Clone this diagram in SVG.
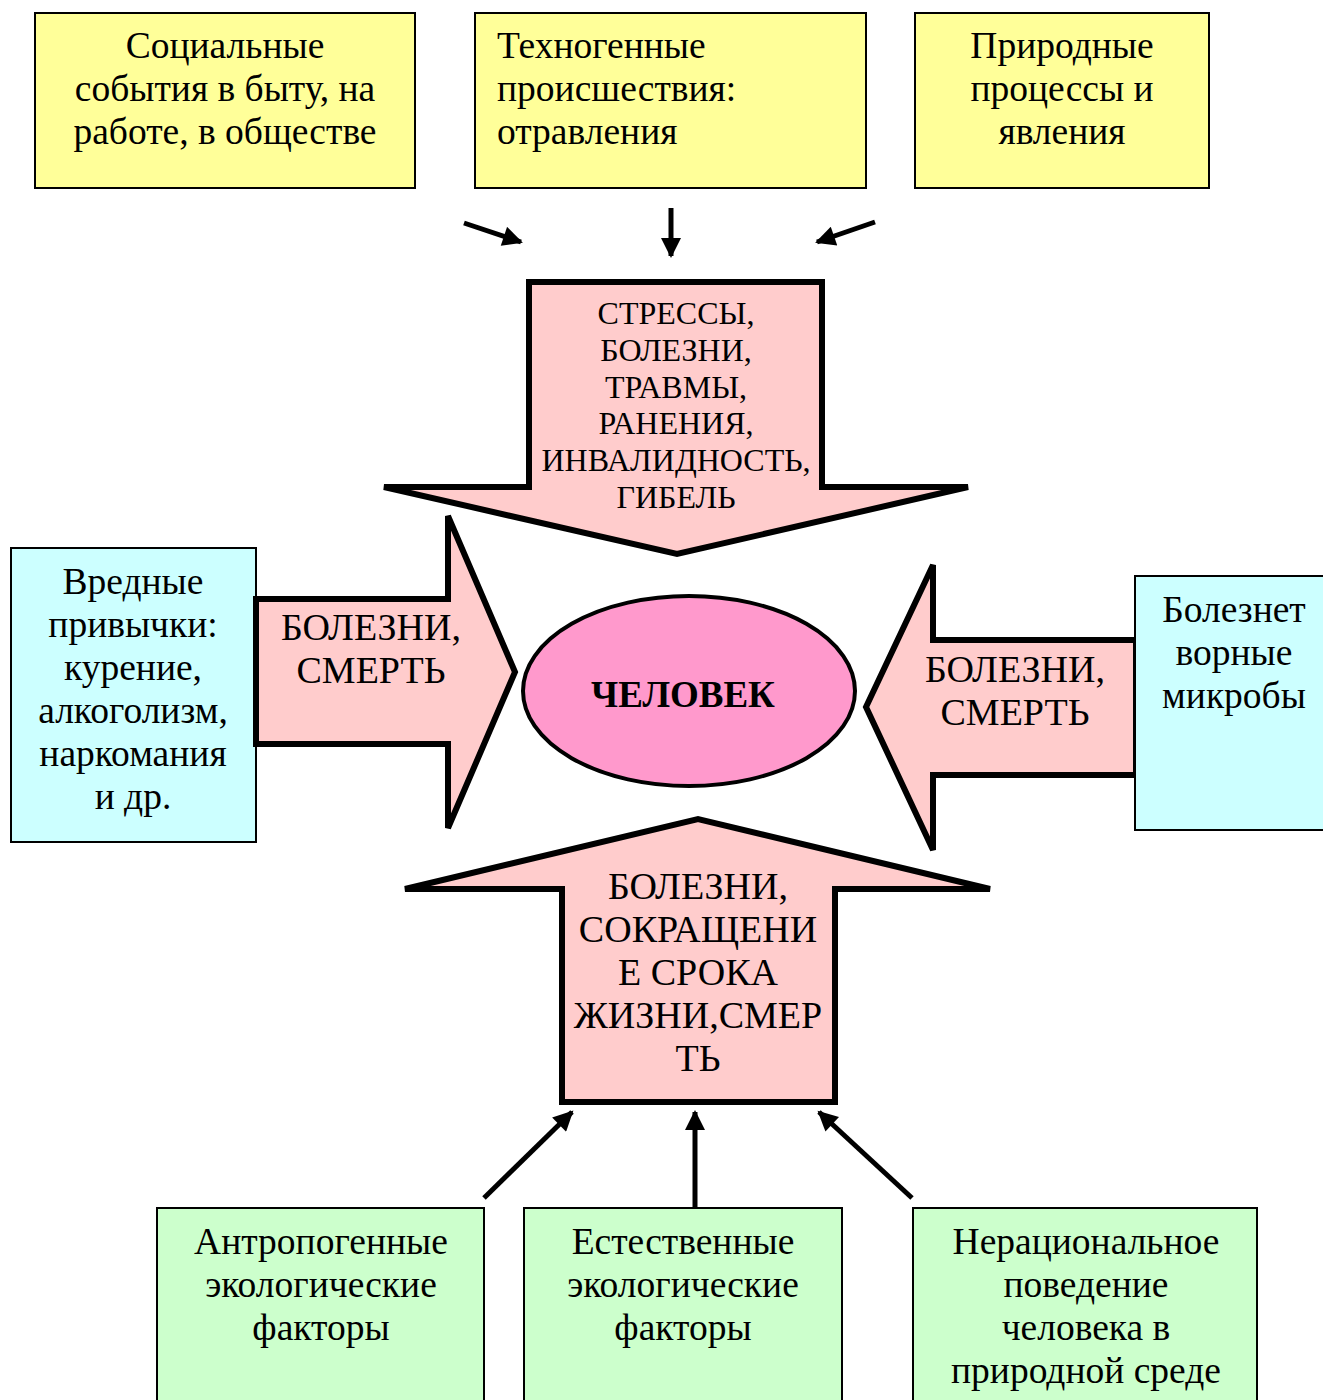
<svg xmlns="http://www.w3.org/2000/svg" width="1323" height="1400" viewBox="0 0 1323 1400">
<defs>
<marker id="ah" viewBox="0 0 10 10" refX="9" refY="5" markerWidth="4.4" markerHeight="4" markerUnits="strokeWidth" orient="auto">
<path d="M0,0 L10,5 L0,10 z" fill="#000"/>
</marker>
<style>
.t{font-family:"Liberation Serif","Times New Roman",serif;font-size:37.5px;fill:#000}
.c{text-anchor:middle}
.box{stroke:#000;stroke-width:2}
.big{fill:#ffcccc;stroke:#000;stroke-width:6;stroke-linejoin:miter}
.a{font-family:"Liberation Serif","Times New Roman",serif;fill:#000;text-anchor:middle}
.con{stroke:#000;stroke-width:5;fill:none;marker-end:url(#ah)}
</style>
</defs>
<rect width="1323" height="1400" fill="#fff"/>

<g id="box-social">
<rect class="box" x="35" y="13" width="380" height="175" fill="#ffff99"/>
<text class="t c" x="225" y="58">Социальные</text>
<text class="t c" x="225" y="101">события в быту, на</text>
<text class="t c" x="225" y="144">работе, в обществе</text>
</g>
<g id="box-techno">
<rect class="box" x="475" y="13" width="391" height="175" fill="#ffff99"/>
<text class="t" x="497" y="58">Техногенные</text>
<text class="t" x="497" y="101">происшествия:</text>
<text class="t" x="497" y="144">отравления</text>
</g>
<g id="box-nature">
<rect class="box" x="915" y="13" width="294" height="175" fill="#ffff99"/>
<text class="t c" x="1062" y="58">Природные</text>
<text class="t c" x="1062" y="101">процессы и</text>
<text class="t c" x="1062" y="144">явления</text>
</g>

<g id="arrow-top">
<polygon class="big" points="529,282 822,282 822,487 968,487 677,554 384,487 529,487"/>
<text class="a" font-size="32" x="676" y="324">СТРЕССЫ,</text>
<text class="a" font-size="32" x="676" y="361">БОЛЕЗНИ,</text>
<text class="a" font-size="32" x="676" y="398">ТРАВМЫ,</text>
<text class="a" font-size="32" x="676" y="434">РАНЕНИЯ,</text>
<text class="a" font-size="32" x="676" y="471">ИНВАЛИДНОСТЬ,</text>
<text class="a" font-size="32" x="676" y="508">ГИБЕЛЬ</text>
</g>

<g id="box-habits">
<rect class="box" x="11" y="548" width="245" height="294" fill="#ccffff"/>
<text class="t c" x="133" y="594">Вредные</text>
<text class="t c" x="133" y="637">привычки:</text>
<text class="t c" x="133" y="680">курение,</text>
<text class="t c" x="133" y="723">алкоголизм,</text>
<text class="t c" x="133" y="766">наркомания</text>
<text class="t c" x="133" y="809">и др.</text>
</g>

<g id="arrow-left">
<polygon class="big" points="256,599 448,599 448,516 515,672 448,828 448,744 256,744"/>
<text class="a" font-size="38" x="371" y="640">БОЛЕЗНИ,</text>
<text class="a" font-size="38" x="371" y="683">СМЕРТЬ</text>
</g>

<g id="arrow-right">
<polygon class="big" points="1136,640 933,640 933,565 866,707 933,850 933,775 1136,775"/>
<text class="a" font-size="38" x="1015" y="682">БОЛЕЗНИ,</text>
<text class="a" font-size="38" x="1015" y="725">СМЕРТЬ</text>
</g>

<g id="box-microbes">
<rect class="box" x="1135" y="576" width="190" height="254" fill="#ccffff"/>
<text class="t c" x="1234" y="622">Болезнет</text>
<text class="t c" x="1234" y="665">ворные</text>
<text class="t c" x="1234" y="708">микробы</text>
</g>

<g id="node-human">
<ellipse cx="689" cy="691" rx="166" ry="95" fill="#ff99cc" stroke="#000" stroke-width="4"/>
<text class="a" font-size="37" font-weight="bold" x="683" y="707">ЧЕЛОВЕК</text>
</g>

<g id="arrow-bottom">
<polygon class="big" points="562,1102 835,1102 835,889 990,889 698,819 405,889 562,889"/>
<text class="a" font-size="38" x="698" y="899">БОЛЕЗНИ,</text>
<text class="a" font-size="38" x="698" y="942">СОКРАЩЕНИ</text>
<text class="a" font-size="38" x="698" y="985">Е СРОКА</text>
<text class="a" font-size="38" x="698" y="1028">ЖИЗНИ,СМЕР</text>
<text class="a" font-size="38" x="698" y="1071">ТЬ</text>
</g>

<g id="box-anthropo">
<rect class="box" x="157" y="1208" width="327" height="200" fill="#ccffcc"/>
<text class="t c" x="321" y="1254">Антропогенные</text>
<text class="t c" x="321" y="1297">экологические</text>
<text class="t c" x="321" y="1340">факторы</text>
</g>
<g id="box-natural">
<rect class="box" x="524" y="1208" width="318" height="200" fill="#ccffcc"/>
<text class="t c" x="683" y="1254">Естественные</text>
<text class="t c" x="683" y="1297">экологические</text>
<text class="t c" x="683" y="1340">факторы</text>
</g>
<g id="box-irrational">
<rect class="box" x="913" y="1208" width="344" height="200" fill="#ccffcc"/>
<text class="t c" x="1086" y="1254">Нерациональное</text>
<text class="t c" x="1086" y="1297">поведение</text>
<text class="t c" x="1086" y="1340">человека в</text>
<text class="t c" x="1086" y="1383">природной среде</text>
</g>

<g id="connectors">
<line class="con" x1="464" y1="223" x2="521" y2="242"/>
<line class="con" x1="671" y1="208" x2="671" y2="256"/>
<line class="con" x1="875" y1="222" x2="817" y2="242"/>
<line class="con" x1="484" y1="1198" x2="572" y2="1112"/>
<line class="con" x1="695" y1="1208" x2="695" y2="1112"/>
<line class="con" x1="912" y1="1198" x2="819" y2="1112"/>
</g>
</svg>
